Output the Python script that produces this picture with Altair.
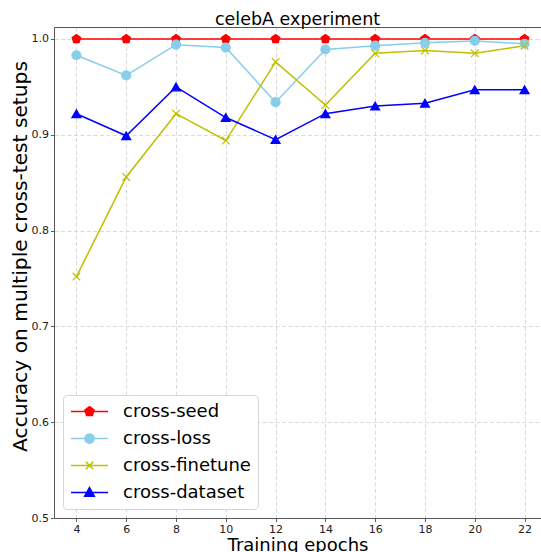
import altair as alt
import pandas as pd

epochs = [4, 6, 8, 10, 12, 14, 16, 18, 20, 22]
series_names = ["cross-seed", "cross-loss", "cross-finetune", "cross-dataset"]
marker_names = ["pentagon", "dot", "xmark", "triangle"]
cross_seed = [1.0, 1.0, 1.0, 1.0, 1.0, 1.0, 1.0, 1.0, 1.0, 1.0]
cross_loss = [0.983, 0.962, 0.994, 0.991, 0.934, 0.989, 0.993, 0.996, 0.998, 0.995]
cross_finetune = [0.752, 0.856, 0.922, 0.894, 0.976, 0.931, 0.985, 0.988, 0.985, 0.993]
cross_dataset = [0.922, 0.899, 0.950, 0.918, 0.895, 0.922, 0.930, 0.933, 0.947, 0.947]
colors = ["#ff0000", "#87ceeb", "#bfbf00", "#0000ff"]
y_ticks = [0.5, 0.6, 0.7, 0.8, 0.9, 1.0]

values = [cross_seed, cross_loss, cross_finetune, cross_dataset]
rows = []
for name, mk, vals in zip(series_names, marker_names, values):
    for e, v in zip(epochs, vals):
        rows.append({"epoch": e, "acc": v, "series": name, "marker": mk})
df = pd.DataFrame(rows)

# marker shapes in the plot
pentagon = "M0,-1L0.951,-0.309L0.588,0.809L-0.588,0.809L-0.951,-0.309Z"
xmark = "M-0.85,-0.85L0.85,0.85M-0.85,0.85L0.85,-0.85"
plot_shapes = [pentagon, "circle", xmark, "triangle-up"]

# legend symbols: line + marker
leg_paths = [
    "M-1,0L1,0M0,-0.26L0.247,-0.08L0.153,0.21L-0.153,0.21L-0.247,-0.08Z",
    "M-1,0L1,0M-0.25,0A0.25,0.25,0,1,0,0.25,0A0.25,0.25,0,1,0,-0.25,0Z",
    "M-1,0L1,0M-0.2,-0.2L0.2,0.2M-0.2,0.2L0.2,-0.2",
    "M-1,0L1,0M0,-0.27L0.26,0.2L-0.26,0.2Z",
]
expr = ""
for n, p in zip(series_names, leg_paths):
    expr += f"datum.value === '{n}' ? '{p}' : "
expr += "'circle'"
col_expr = "scale('color', datum.value)"

legend = alt.Legend(
    title=None,
    orient="bottom-left",
    offset=9,
    labelFontSize=18,
    labelFont="DejaVu Sans",
    labelColor="#000000",
    labelOffset=14,
    symbolSize=1369,
    symbolStrokeWidth=1.5,
    symbolType=alt.ExprRef(expr),
    symbolFillColor=alt.ExprRef(col_expr),
    symbolStrokeColor=alt.ExprRef(col_expr),
    symbolOpacity=1,
    clipHeight=19,
    rowPadding=8,
    padding=7,
    fillColor="#ffffff",
    strokeColor="#d5d5d5",
    cornerRadius=4,
)

color_scale = alt.Scale(domain=series_names, range=colors)
x_scale = alt.Scale(domain=[3.1, 22.66], nice=False, zero=False)
y_scale = alt.Scale(domain=[0.5, 1.0125], nice=False, zero=False)

base = alt.Chart(df)

lines = base.mark_line(strokeWidth=1.5).encode(
    x=alt.X("epoch:Q", scale=x_scale,
            axis=alt.Axis(values=epochs, format="d", title="Training epochs",
                          titleFontSize=18, titleY=32.5, titleBaseline="alphabetic",
                          grid=True)),
    y=alt.Y("acc:Q", scale=y_scale,
            axis=alt.Axis(values=y_ticks, format=".1f",
                          title="Accuracy on multiple cross-test setups",
                          titleFontSize=20.2, titleX=-28, titleY=229,
                          titleAngle=-90, titleAlign="center",
                          titleBaseline="alphabetic", grid=True)),
    color=alt.Color("series:N", scale=color_scale, legend=legend, sort=series_names),
    detail="series:N",
)

points = base.mark_point(filled=True, size=81, strokeWidth=1.2, opacity=1).encode(
    x=alt.X("epoch:Q", scale=x_scale,
            axis=alt.Axis(orient="top", labels=False, ticks=False, grid=False,
                          title=None, domain=True)),
    y=alt.Y("acc:Q", scale=y_scale),
    fill=alt.Fill("marker:N", scale=alt.Scale(domain=marker_names, range=colors), legend=None),
    stroke=alt.Stroke("marker:N", scale=alt.Scale(domain=marker_names, range=colors), legend=None),
    shape=alt.Shape("marker:N", scale=alt.Scale(domain=marker_names, range=plot_shapes), legend=None),
)

chart = (
    alt.layer(lines, points)
    .resolve_axis(x="independent")
    .properties(
        width=487,
        height=491,
        autosize=alt.AutoSizeParams(type="none"),
        padding={"left": 54, "top": 27, "right": 0, "bottom": 34},
        title=alt.TitleParams("celebA experiment", fontSize=17.5, font="DejaVu Sans",
                              fontWeight="normal", color="#000000", anchor="middle",
                              baseline="alphabetic", offset=4, frame="group", dy=19),
    )
    .configure_view(stroke=None)
    .configure_axis(
        labelFont="DejaVu Sans",
        labelFontSize=11,
        labelColor="#222222",
        labelPadding=2,
        tickColor="#333333",
        tickSize=3.5,
        tickWidth=0.8,
        domainColor="#555555",
        domainWidth=1,
        gridColor="#d0d0d0",
        gridDash=[4, 2.5],
        gridWidth=0.8,
        titleFont="DejaVu Sans",
        titleFontWeight="normal",
        titleColor="#000000",
    )
)

chart.save("out.html", embed_options={"renderer": "svg", "actions": False})
